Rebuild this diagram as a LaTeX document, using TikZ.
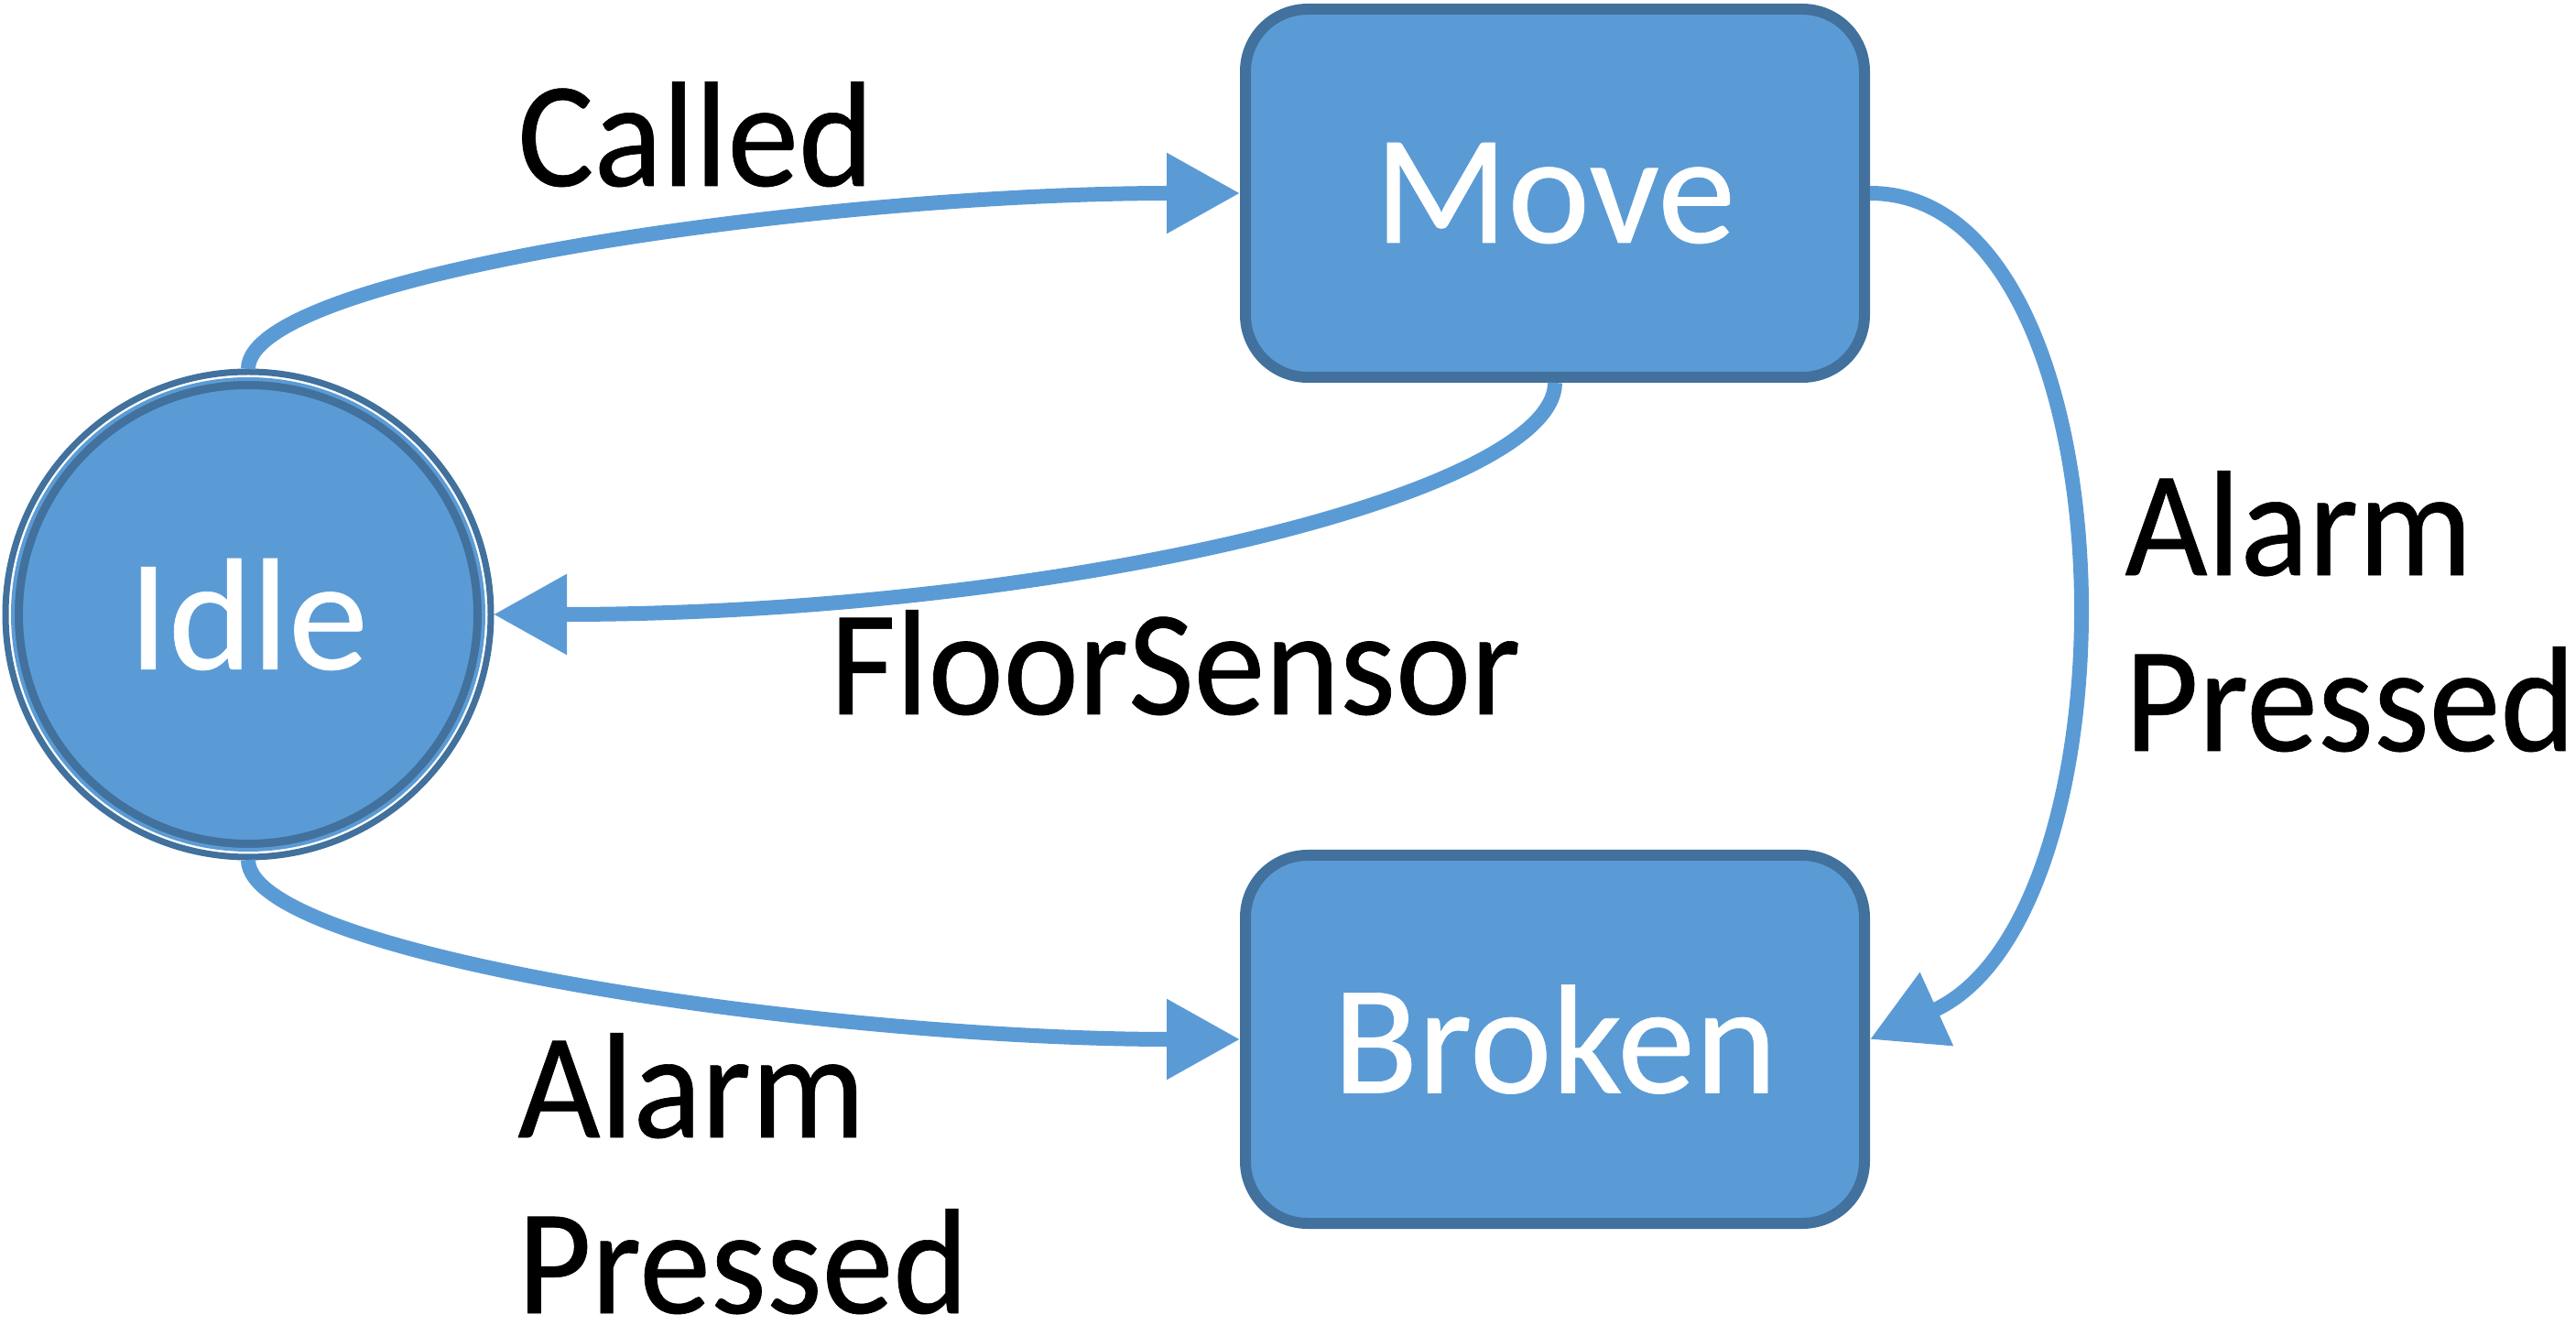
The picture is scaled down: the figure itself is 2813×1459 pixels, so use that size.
\documentclass[tikz,border=0pt]{standalone}
\usepackage{fontspec}
\setmainfont[FakeBold=0.4]{Carlito}
\newfontfamily\lblfont[FakeStretch=0.95,FakeBold=0.4]{Carlito}
\usetikzlibrary{arrows.meta,calc}
\definecolor{fillblue}{HTML}{5B9BD5}
\definecolor{edgeblue}{HTML}{41719C}
\tikzset{
  statebox/.style={draw=edgeblue, fill=fillblue, line width=6pt, rounded corners=34pt,
    minimum width=338pt, minimum height=201pt, inner sep=0pt, text=white,
    font=\fontsize{85}{100}\selectfont},
  idlestate/.style={circle, draw=edgeblue, fill=fillblue, line width=5pt,
    minimum size=251pt, inner sep=0pt, text=white, font=\fontsize{87}{100}\selectfont},
  ring/.style={draw=edgeblue, line width=3.5pt},
  thinring/.style={draw=fillblue, line width=2pt},
  trans/.style={draw=fillblue, line width=8pt, -{Triangle[length=40pt,width=42pt]}},
  lbl/.style={font=\lblfont\fontsize{82}{96}\selectfont, align=left, inner sep=0pt,
    text depth=0pt, text=black}
}
\begin{document}
\begin{tikzpicture}[x=0.5pt,y=-0.5pt]
\useasboundingbox (0,0) rectangle (2813,1459);
\node[idlestate] (idle) at (271,671) {Idle};
\draw[ring] (idle.center) circle[radius=265];
\draw[thinring] (idle.center) circle[radius=257];
\node[statebox] (move) at (1698,211) {Move};
\node[statebox] (broken) at (1698,1135) {Broken};
\coordinate (itop) at ($(idle.center)+(0,-268)$);
\coordinate (ibot) at ($(idle.center)+(0,268)$);
\coordinate (ieast) at ($(idle.center)+(268,0)$);
\draw[trans] (itop) .. controls +(0,-104) and +(-454,0) .. (move.west);
\draw[trans] (move.south) .. controls +(0,122) and +(612,0) .. (ieast);
\draw[trans] (ibot) .. controls +(0,104) and +(-454,0) .. (broken.west);
\draw[trans] (move.east) .. controls +(290,0) and +(300,-136) .. (broken.east);
\node[lbl, anchor=base west] (lcalled) at (565,203) {Called};
\node[lbl, anchor=base west] (lfloor) at (906,780) {FloorSensor};
\node[lbl, anchor=base west] (lalarmr) at (2320,820) {Alarm\\Pressed};
\node[lbl, anchor=base west] (lalarml) at (565,1434) {Alarm\\Pressed};
\end{tikzpicture}
\end{document}
